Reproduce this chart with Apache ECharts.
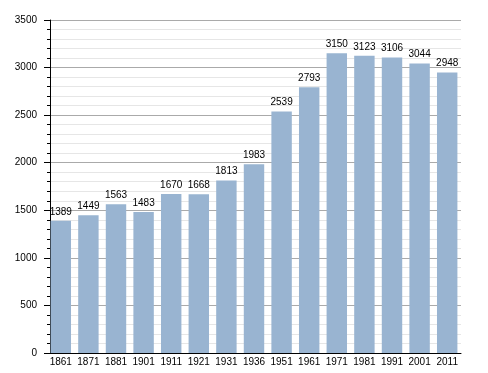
<!DOCTYPE html>
<html><head><meta charset="utf-8">
<script src="https://cdn.jsdelivr.net/npm/echarts@6/dist/echarts.min.js"></script>
<style>html,body{margin:0;padding:0;background:#fff}#c{width:488px;height:373px}</style>
</head><body><div id="c"></div>
<script>
const years = ['1861','1871','1881','1901','1911','1921','1931','1936','1951','1961','1971','1981','1991','2001','2011'];
const population = [1389,1449,1563,1483,1670,1668,1813,1983,2539,2793,3150,3123,3106,3044,2948];
const yTicks = [0,500,1000,1500,2000,2500,3000,3500];

const FONT = 'Liberation Sans';
const chart = echarts.init(document.getElementById('c'), null, {renderer:'canvas'});
chart.setOption({
  animation:false,
  grid:{left:47,right:27,top:20,bottom:20,containLabel:false},
  xAxis:{
    type:'category', data:years,
    axisLine:{show:true,lineStyle:{color:'#000',width:1}},
    axisTick:{show:false},
    axisLabel:{color:'#000',fontSize:10,fontFamily:FONT,margin:4,interval:0}
  },
  yAxis:{
    type:'value', min:yTicks[0], max:yTicks[yTicks.length-1], interval:500, offset:-3,
    axisLine:{show:true,lineStyle:{color:'#000',width:1}},
    axisTick:{show:true,inside:false,length:6,lineStyle:{color:'#000'}},
    minorTick:{show:true,splitNumber:5,length:3,lineStyle:{color:'#000'}},
    splitLine:{show:true,lineStyle:{color:'#aaa',width:1}},
    minorSplitLine:{show:true,lineStyle:{color:'#e6e6e6',width:1}},
    axisLabel:{color:'#000',fontSize:10,fontFamily:FONT,margin:13,formatter:function(v){return String(v);}}
  },
  series:[{
    type:'bar', data:population, barCategoryGap:'26%',
    itemStyle:{color:'#99b4d1'},
    label:{show:true,position:'top',distance:4,color:'#000',fontSize:10,fontFamily:FONT}
  }]
});
</script></body></html>
